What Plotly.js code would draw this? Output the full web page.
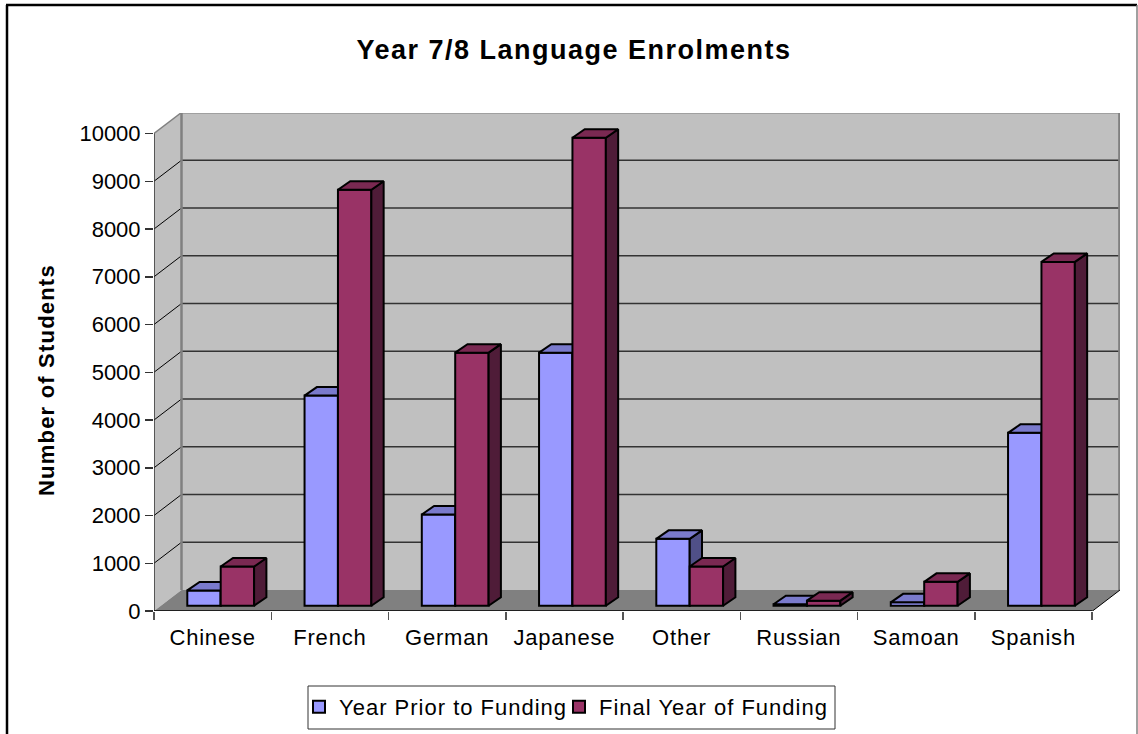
<!DOCTYPE html>
<html><head><meta charset="utf-8">
<script src="https://cdn.plot.ly/plotly-3.0.1.min.js"></script>
<style>html,body{margin:0;padding:0;background:#fff;overflow:hidden}#c{width:1138px;height:734px}
.gtitle{letter-spacing:1.5px}
.xtick text{letter-spacing:0.8px}
.legendtext,.legend2text{letter-spacing:1px}
.annotation-text{letter-spacing:1.2px}
</style>
</head><body><div id="c"></div>
<script>
const categories = ['Chinese','French','German','Japanese','Other','Russian','Samoan','Spanish'];
const priorYear = [320,4400,1910,5300,1400,30,70,3620];
const finalYear = [820,8710,5300,9800,820,105,500,7200];
const seriesNames = ['Year Prior to Funding','Final Year of Funding'];
const yTicks = [0,1000,2000,3000,4000,5000,6000,7000,8000,9000,10000];

// plot box in pixels
const L=154,R=1120,T=113,B=611, W=1138,H=734;
const unitX=117.25, unitY=47.75/1000;
const xMax=(R-L)/unitX, yMax=(B-T)/unitY;
const wallDx=27.5/unitX, wallDy=21/unitY;          // depth of the chart box
const barDx=12.3/unitX, barDy=8.5/unitY;           // depth of a bar
const barW=33.4/unitX, barBase=5.3/unitY;
const offs=[0.284-0.5, 0.284+33.4/unitX-0.5];
const cx=categories.map((_,i)=>i+0.5);
const C={blue:['#9999FF','#7A7ACC','#505088'],red:['#993366','#7A2952','#4F1C38']};

function bar(vals,off,cols,name,xa,ya,leg){
  return {type:'bar',x:cx,y:vals,base:vals.map(()=>barBase),width:barW,offset:off,name,xaxis:xa,yaxis:ya,legend:leg,
    marker:{color:cols[0],line:{color:'#000',width:2}},hoverinfo:'skip'};
}
function faces(vals,off,cols,xa,ya){
  const tx=[],ty=[],sx=[],sy=[];
  vals.forEach((v,i)=>{
    const xl=cx[i]+off,xr=xl+barW,yt=barBase+v,yb=barBase;
    tx.push(xl,xl+barDx,xr+barDx,xr,xl,null);
    ty.push(yt,yt+barDy,yt+barDy,yt,yt,null);
    sx.push(xr,xr+barDx,xr+barDx,xr,xr,null);
    sy.push(yt,yt+barDy,yb+barDy,yb,yt,null);
  });
  const mk=(x,y,c)=>({type:'scatter',mode:'lines',x,y,fill:'toself',fillcolor:c,xaxis:xa,yaxis:ya,
    line:{color:'#000',width:2},showlegend:false,hoverinfo:'skip'});
  return [mk(sx,sy,cols[2]),mk(tx,ty,cols[1])];
}
const data=[
  bar(priorYear,offs[0],C.blue,seriesNames[0],'x','y','legend'),
  ...faces(priorYear,offs[0],C.blue,'x','y'),
  bar(finalYear,offs[1],C.red,seriesNames[1],'x2','y2','legend2'),
  ...faces(finalYear,offs[1],C.red,'x2','y2')
];

const shapes=[];
const poly=(pts,fill)=>({type:'path',layer:'below',xref:'x',yref:'y',fillcolor:fill,line:{width:0},
  path:'M'+pts.map(p=>p.join(',')).join('L')+'Z'});
const seg=(x0,y0,x1,y1,c,w)=>({type:'line',layer:'below',xref:'x',yref:'y',x0,y0,x1,y1,line:{color:c,width:w}});
const yTop=10000;
shapes.push(poly([[wallDx,wallDy],[xMax,wallDy],[xMax,yTop+wallDy],[wallDx,yTop+wallDy]],'#C0C0C0'));
shapes.push(poly([[0,0],[wallDx,wallDy],[wallDx,yTop+wallDy],[0,yTop]],'#C0C0C0'));
shapes.push(poly([[0,0],[xMax-wallDx,0],[xMax,wallDy],[wallDx,wallDy]],'#808080'));
yTicks.slice(1,-1).forEach(v=>{
  shapes.push(seg(0,v,wallDx,v+wallDy,'#000',1));
  shapes.push(seg(wallDx,v+wallDy,xMax,v+wallDy,'#333',1.5));
});
shapes.push(seg(wallDx,yTop+wallDy,xMax,yTop+wallDy,'#808080',2));
shapes.push(seg(0,yTop,wallDx,yTop+wallDy,'#808080',1.5));
shapes.push(seg(wallDx,wallDy,wallDx,yTop+wallDy,'#808080',2.5));
shapes.push(seg(xMax-0.005,wallDy,xMax-0.005,yTop+wallDy,'#808080',2.5));
shapes.push(seg(0,0,0,yTop,'#333',1.5));
shapes.push(seg(0,0,xMax-wallDx,0,'#000',1.5));
shapes.push(seg(xMax-wallDx,0,xMax,wallDy,'#000',1));

// outer frame, open at the bottom
const px=x=>(x-L)/(R-L), py=y=>(B-y)/(B-T);
const frame=(a,b,c,d,col,w)=>({type:'line',xref:'paper',yref:'paper',x0:px(a),y0:py(b),x1:px(c),y1:py(d),line:{color:col,width:w}});
shapes.push(frame(7,5,7,734,'#000',2.5));
shapes.push(frame(6,5,1137,5,'#000',2.5));
shapes.push(frame(1137,5,1137,734,'#808080',1.5));
// legend box
shapes.push({type:'rect',xref:'paper',yref:'paper',x0:px(308),y0:py(686),x1:px(835),y1:py(729),fillcolor:'#fff',line:{color:'#333',width:1}});

const font='"Liberation Sans",Arial,sans-serif';
const legendBase={orientation:'h',xanchor:'left',y:py(686),yanchor:'top',bgcolor:'rgba(0,0,0,0)',borderwidth:0,font:{size:22,family:font}};
const layout={
  width:W,height:H,margin:{l:L,r:W-R,t:T,b:H-B,pad:0,autoexpand:false},paper_bgcolor:'#fff',plot_bgcolor:'rgba(0,0,0,0)',
  barmode:'overlay',font:{family:font,color:'#000',size:21},
  title:{text:'<b>Year 7/8 Language Enrolments</b>',x:574/W,xanchor:'center',y:1-50/H,yanchor:'middle',xref:'container',yref:'container',font:{size:27,family:font,color:'#000'}},
  xaxis:{range:[0,xMax],showgrid:false,zeroline:false,showline:false,tickmode:'array',tickvals:cx,ticktext:categories,ticks:'',ticklen:0,
    tickfont:{size:22,family:font},ticklabelstandoff:11,
    minor:{tickmode:'array',tickvals:[0,1,2,3,4,5,6,7,8],ticks:'outside',ticklen:8,tickcolor:'#555',tickwidth:1.5,showgrid:false}},
  yaxis:{range:[0,yMax],showgrid:false,zeroline:false,showline:false,tickmode:'array',tickvals:yTicks,ticktext:yTicks.map(String),
    ticks:'outside',ticklen:8,tickcolor:'#333',tickwidth:1.5,tickfont:{size:22,family:font}},
  xaxis2:{overlaying:'x',anchor:'y2',range:[0,xMax],visible:false},
  yaxis2:{overlaying:'y',anchor:'x2',range:[0,yMax],visible:false},
  shapes,
  annotations:[{text:'<b>Number of Students</b>',textangle:-90,xref:'paper',yref:'paper',x:px(46),y:py(380),xanchor:'center',yanchor:'middle',showarrow:false,
    font:{size:22,family:font,color:'#000'}}],
  legend:{...legendBase,x:px(299)},
  legend2:{...legendBase,x:px(559)}
};
Plotly.newPlot('c',data,layout,{staticPlot:true,displayModeBar:false});
</script></body></html>
